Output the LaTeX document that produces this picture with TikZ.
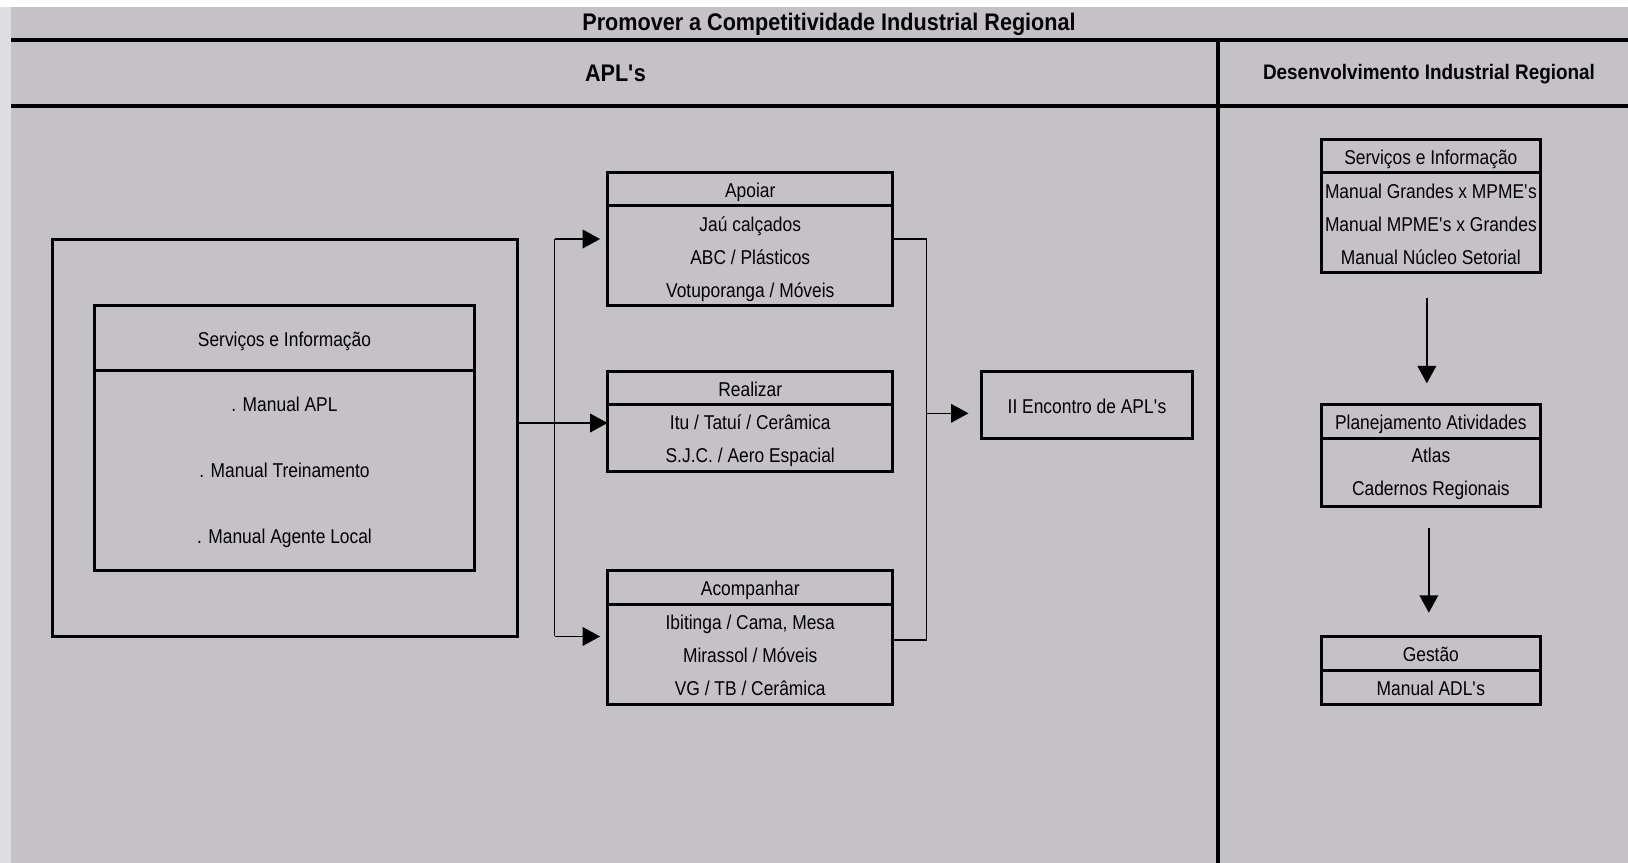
\documentclass[tikz,border=0pt]{standalone}
\usepackage{fontspec}
\setmainfont{Liberation Sans}
\newfontfamily\narrowfont[FakeStretch=0.87]{Liberation Sans}
\newfontfamily\headfont[FakeStretch=0.9]{Liberation Sans}
\usetikzlibrary{positioning,arrows.meta}
\definecolor{panelgray}{RGB}{196,194,198}
\definecolor{stripgray}{RGB}{223,223,225}
\tikzset{
  rule/.style={line width=3pt, draw=black},
  frame/.style={draw=black, line width=2.25pt, outer sep=0pt, inner sep=0pt},
  tabhead/.style={frame, font={\narrowfont\fontsize{15}{24.75}\selectfont},
    execute at begin node={\rule{0pt}{16.2pt}}, execute at end node={\rule[-4pt]{0pt}{4pt}}},
  tabbody/.style={frame},
  rowtext/.style={inner sep=0pt, align=center, font={\narrowfont\fontsize{15}{24.75}\selectfont}},
  link/.style={line width=1pt, draw=black},
  arrowlink/.style={link, -{Triangle[length=13pt,width=14pt]}},
  headlabel/.style={anchor=base, font={\headfont\bfseries\fontsize{18}{20}\selectfont}},
}

\begin{document}
\begin{tikzpicture}[x=0.75pt, y=-0.75pt]
\useasboundingbox (0,0) rectangle (1628,863);
\fill[white] (0,0) rectangle (1628,863);
\fill[stripgray] (0,7) rectangle (11,863);
\fill[panelgray] (11,7) rectangle (1628,863);
\draw[rule] (11,40) -- (1628,40);
\draw[rule] (11,106) -- (1628,106);
\draw[rule] (1218,40) -- (1218,863);
\node[headlabel] (title) at (829,30.7) {Promover a Competitividade Industrial Regional};
\node[headlabel] (apls) at (615.5,81.7) {APL\textquotesingle s};
\node[headlabel, font={\headfont\bfseries\fontsize{15.75}{18}\selectfont}] (dir) at (1429,80) {Desenvolvimento Industrial Regional};
\node[frame, minimum width=348.75pt, minimum height=298.1pt] (outer) at (284.5,437.75) {};
\node[tabhead, minimum width=285pt, minimum height=49.3pt] (siH) at (284.5,337.9) {Serviços e Informação};
\node[tabbody, minimum width=285pt, minimum height=149.5pt, below=0pt of siH] (siB) {};
\node[rowtext, font={\narrowfont\fontsize{15}{49.5}\selectfont}] (siT) at ([yshift=-1.3pt]siB.center) {. Manual APL\\. Manual Treinamento\\. Manual Agente Local};
\node[tabhead, minimum width=214.1pt, minimum height=24.75pt] (apoiarH) at (750.25,189) {Apoiar};
\node[tabbody, minimum width=214.1pt, minimum height=75pt, below=0pt of apoiarH] (apoiarB) {};
\node[rowtext] (apoiarT) at ([yshift=-2.5pt]apoiarB.center) {Jaú calçados\\ABC / Plásticos\\Votuporanga / Móveis};
\node[tabhead, minimum width=214.1pt, minimum height=25pt] (realH) at (750.25,388.25) {Realizar};
\node[tabbody, minimum width=214.1pt, minimum height=50.25pt, below=0pt of realH] (realB) {};
\node[rowtext] (realT) at ([yshift=-2pt]realB.center) {Itu / Tatuí / Cerâmica\\S.J.C. / Aero Espacial};
\node[tabhead, minimum width=214.1pt, minimum height=25.5pt] (acompH) at (750.25,587) {Acompanhar};
\node[tabbody, minimum width=214.1pt, minimum height=75.4pt, below=0pt of acompH] (acompB) {};
\node[rowtext] (acompT) at ([yshift=-1pt]acompB.center) {Ibitinga / Cama, Mesa\\Mirassol / Móveis\\VG / TB / Cerâmica};
\node[tabhead, minimum width=158.8pt, minimum height=50.5pt] (encontro) at (1087,405.3) {II Encontro de APL\textquotesingle s};
\node[tabhead, minimum width=163.7pt, minimum height=25pt] (dsiH) at (1430.85,156) {Serviços e Informação};
\node[tabbody, minimum width=163.7pt, minimum height=75pt, below=0pt of dsiH] (dsiB) {};
\node[rowtext] (dsiT) at ([yshift=-1pt]dsiB.center) {Manual Grandes x MPME\textquotesingle s\\Manual MPME\textquotesingle s x Grandes\\Manual Núcleo Setorial};
\node[tabhead, minimum width=163.7pt, minimum height=25.5pt] (planH) at (1430.85,421.3) {Planejamento Atividades};
\node[tabbody, minimum width=163.7pt, minimum height=50.8pt, below=0pt of planH] (planB) {};
\node[rowtext] (planT) at ([yshift=-1.5pt]planB.center) {Atlas\\Cadernos Regionais};
\node[tabhead, minimum width=163.7pt, minimum height=25.5pt] (gestH) at (1430.85,653.7) {Gestão};
\node[tabbody, minimum width=163.7pt, minimum height=25pt, below=0pt of gestH] (gestB) {};
\node[rowtext] (gestT) at ([yshift=-0.8pt]gestB.center) {Manual ADL\textquotesingle s};
\coordinate (fork) at (554.5,423);
\coordinate (merge) at (926.7,413.3);
\coordinate (mergelow) at (926.7,640);
\draw[arrowlink] (outer.east |- fork) -- (realB.west |- fork);
\draw[link] (fork |- outer.north) -- (fork |- outer.south);
\draw[arrowlink, shorten >=5.6pt] (fork |- outer.north) -- (apoiarB.west |- outer.north);
\draw[arrowlink, shorten >=5.6pt] (fork |- outer.south) -- (acompB.west |- outer.south);
\draw[link] (apoiarB.east |- outer.north) -| (merge) -- (mergelow) -- (acompB.east |- mergelow);
\draw[arrowlink, shorten >=9.5pt] (merge) -- (encontro.west |- merge);
\draw[arrowlink, shorten <=18.75pt, shorten >=15.75pt] ([xshift=-3pt]dsiB.south) -- ([xshift=-3pt]planH.north);
\draw[arrowlink, shorten <=16.3pt, shorten >=18pt] ([xshift=-1.5pt]planB.south) -- ([xshift=-1.5pt]gestH.north);
\end{tikzpicture}
\end{document}
